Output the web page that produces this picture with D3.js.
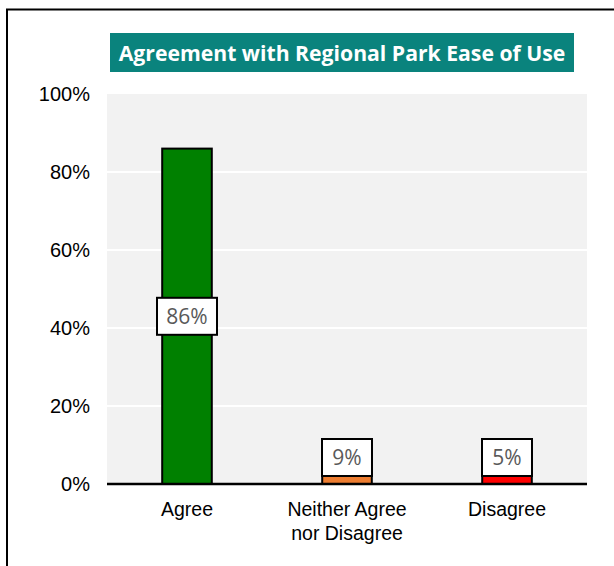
<!DOCTYPE html>
<html>
<head>
<meta charset="utf-8">
<script src="https://cdn.jsdelivr.net/npm/d3@7"></script>
<style>
  html, body { margin: 0; padding: 0; background: #fff; }
  svg { display: block; }
</style>
</head>
<body>
<svg id="chart" width="614" height="566"></svg>
<script>
// Survey responses: share of respondents agreeing the regional park is easy to use
const categories = ["Agree", "Neither Agree\nnor Disagree", "Disagree"];
const values = [86, 9, 5];
const barColors = ["#008000", "#ED7D31", "#FF0000"];
const tickValues = [0, 20, 40, 60, 80, 100];
const title = "Agreement with Regional Park Ease of Use";

const svg = d3.select("#chart");

// Outer frame (left and top edges show within the view)
svg.append("path")
  .attr("d", "M7,566 V9.5 H614")
  .attr("fill", "none")
  .attr("stroke", "#000")
  .attr("stroke-width", 2);

const plot = { left: 107, right: 587, top: 94, bottom: 484 };

const x = d3.scaleBand()
  .domain(categories)
  .range([plot.left, plot.right])
  .paddingInner(0.69)
  .paddingOuter(0.345);

const y = d3.scaleLinear()
  .domain([0, 100])
  .range([plot.bottom, plot.top]);

// Plot background
svg.append("rect")
  .attr("x", plot.left)
  .attr("y", plot.top)
  .attr("width", plot.right - plot.left)
  .attr("height", plot.bottom - plot.top)
  .attr("fill", "#F2F2F2");

// Horizontal gridlines
svg.append("g")
  .selectAll("line")
  .data(tickValues.filter(d => d > 0 && d < 100))
  .join("line")
  .attr("x1", plot.left)
  .attr("x2", plot.right)
  .attr("y1", d => y(d))
  .attr("y2", d => y(d))
  .attr("stroke", "#FFFFFF")
  .attr("stroke-width", 2);

// Y axis tick labels
const yAxis = d3.axisLeft(y)
  .tickValues(tickValues)
  .tickFormat(d => d + "%")
  .tickSize(0)
  .tickPadding(17);

svg.append("g")
  .attr("transform", `translate(${plot.left},0)`)
  .call(yAxis)
  .call(g => g.select(".domain").remove())
  .call(g => g.selectAll("text")
    .attr("font-family", "'Liberation Sans', Arial, sans-serif")
    .attr("font-size", 20)
    .attr("fill", "#000"));

// Bars
svg.append("g")
  .selectAll("rect")
  .data(values)
  .join("rect")
  .attr("x", (d, i) => x(categories[i]))
  .attr("y", d => y(d))
  .attr("width", x.bandwidth())
  .attr("height", d => y(0) - y(d))
  .attr("fill", (d, i) => barColors[i])
  .attr("stroke", "#000")
  .attr("stroke-width", 2);

// X axis baseline
svg.append("line")
  .attr("x1", plot.left)
  .attr("x2", plot.right)
  .attr("y1", plot.bottom)
  .attr("y2", plot.bottom)
  .attr("stroke", "#000")
  .attr("stroke-width", 2.5);

// Category labels
const xAxis = d3.axisBottom(x).tickSize(0).tickPadding(0).tickFormat("");
const xg = svg.append("g")
  .attr("transform", `translate(0,${plot.bottom})`)
  .call(xAxis)
  .call(g => g.select(".domain").remove());

xg.selectAll(".tick").each(function(d) {
  const t = d3.select(this).append("text")
    .attr("text-anchor", "middle")
    .attr("font-family", "'Liberation Sans', Arial, sans-serif")
    .attr("font-size", 19.5)
    .attr("fill", "#000");
  d.split("\n").forEach((line, k) => {
    t.append("tspan")
      .attr("x", 0)
      .attr("y", 32 + k * 24)
      .text(line);
  });
});

// Value labels in boxes
const boxW = 60, boxH = 37;
const labels = svg.append("g")
  .selectAll("g")
  .data(values)
  .join("g")
  .attr("transform", (d, i) => {
    const cx = x(categories[i]) + x.bandwidth() / 2;
    const cy = Math.min(y(d / 2), y(0) - 8 - boxH / 2);
    return `translate(${cx},${cy})`;
  });

labels.append("rect")
  .attr("x", -boxW / 2 + 5)
  .attr("y", -boxH / 2)
  .attr("width", boxW - 10)
  .attr("height", boxH)
  .attr("fill", "#fff")
  .attr("stroke", "#000")
  .attr("stroke-width", 2)
  .filter((d, i) => i === 0)
  .attr("x", -boxW / 2)
  .attr("width", boxW);

labels.append("text")
  .attr("text-anchor", "middle")
  .attr("dy", "0.36em")
  .attr("font-family", "'Open Sans', sans-serif")
  .attr("font-size", 21)
  .attr("fill", "#595959")
  .text(d => d + "%");

// Title banner
svg.append("rect")
  .attr("x", 110)
  .attr("y", 33)
  .attr("width", 464)
  .attr("height", 39)
  .attr("fill", "#0A837D");

svg.append("text")
  .attr("x", 342)
  .attr("y", 53)
  .attr("dy", "0.36em")
  .attr("text-anchor", "middle")
  .attr("font-family", "'Open Sans', sans-serif")
  .attr("font-weight", "bold")
  .attr("font-size", 21.2)
  .attr("fill", "#fff")
  .text(title);
</script>
</body>
</html>
